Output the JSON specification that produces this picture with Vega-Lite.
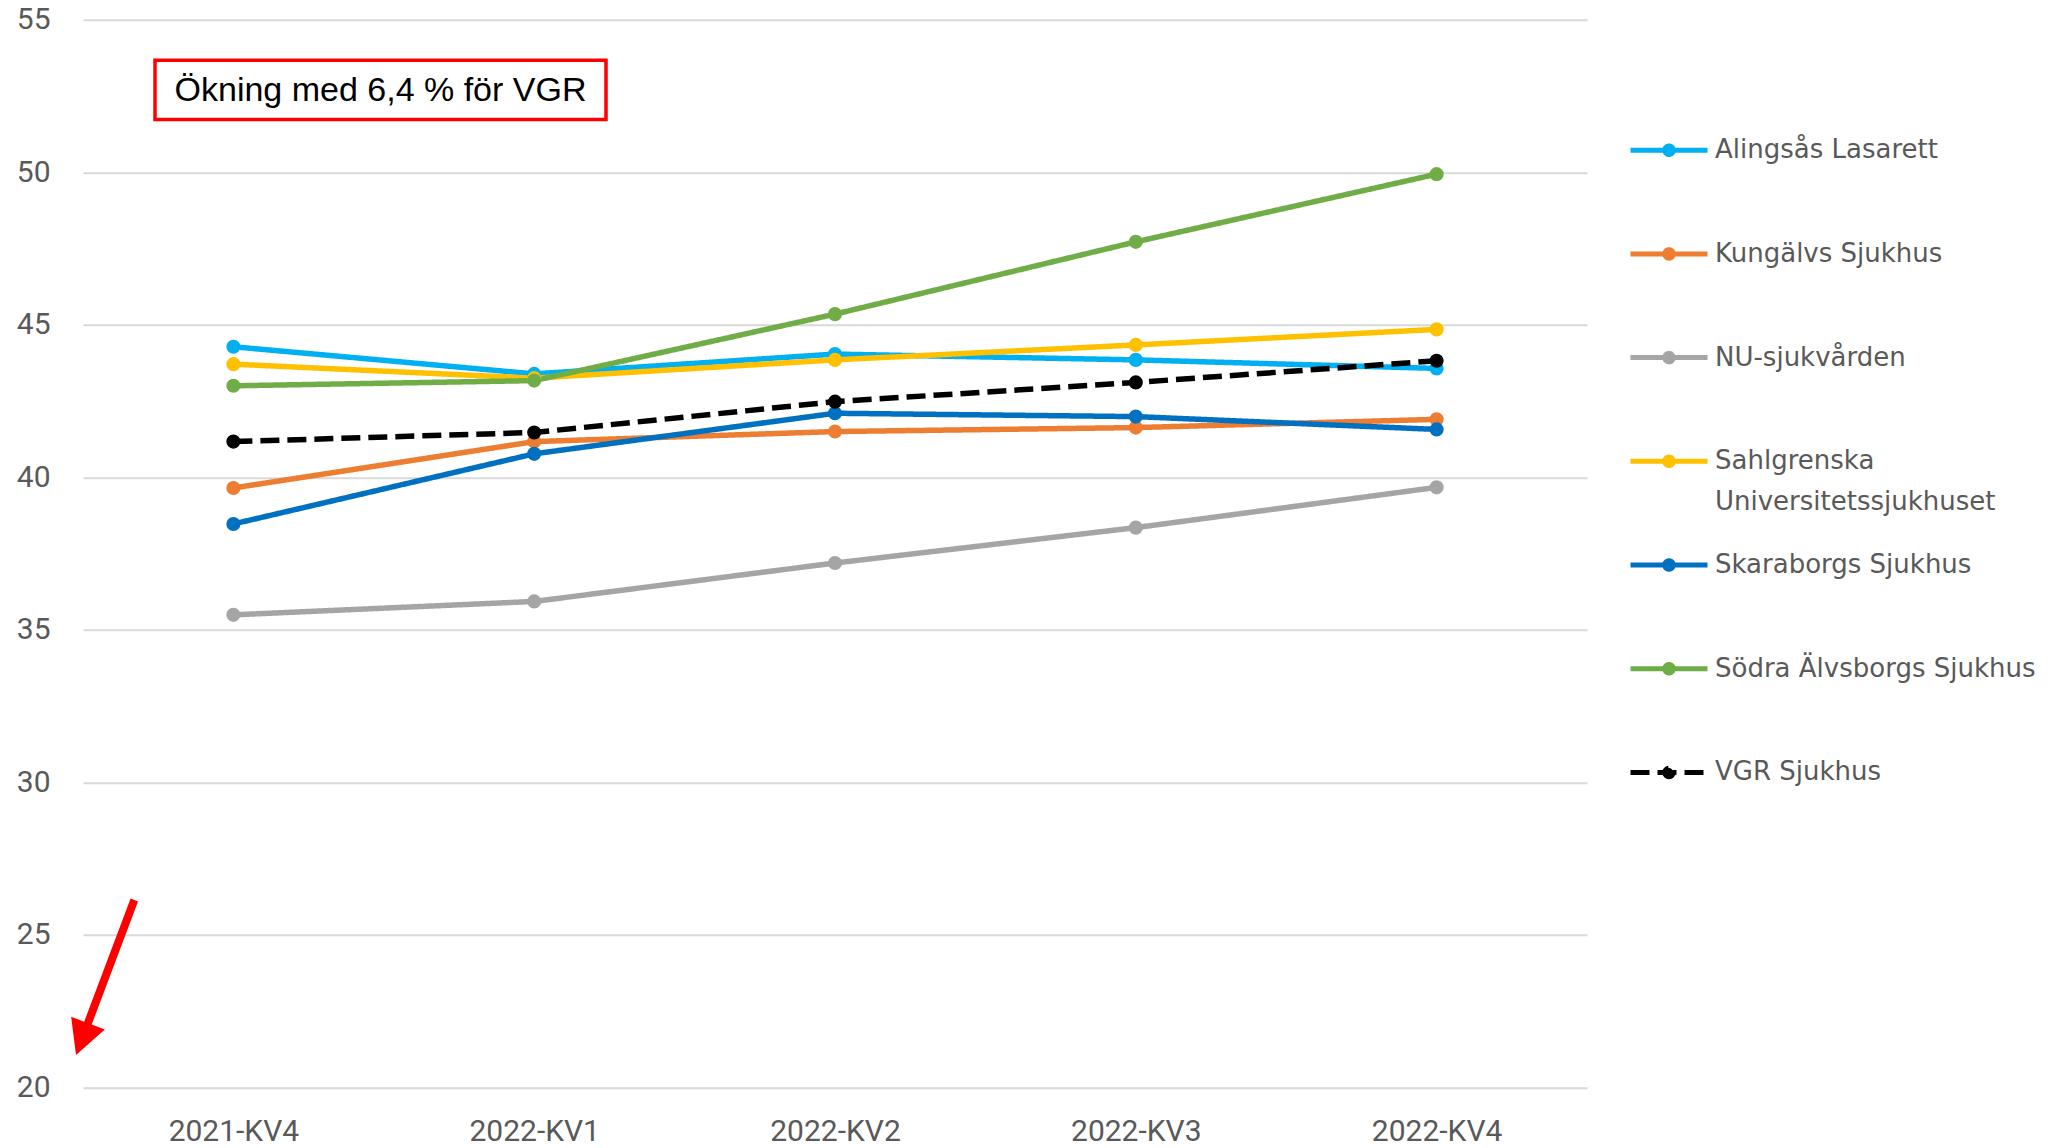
{
  "$schema": "https://vega.github.io/schema/vega-lite/v6.json",
  "width": 1504,
  "height": 1067.5,
  "autosize": {"type": "none"},
  "padding": {"left": 83, "top": 19.8, "right": 474, "bottom": 60.7},
  "background": "white",
  "config": {
    "view": {"stroke": null},
    "font": "Liberation Sans",
    "style": {"guide-label": {"lineHeight": 40.7}}
  },
  "datasets": {
    "serier": [
      {"kvartal": "2021-KV4", "sjukhus": "Alingsås Lasarett", "varde": 44.28},
      {"kvartal": "2022-KV1", "sjukhus": "Alingsås Lasarett", "varde": 43.39},
      {"kvartal": "2022-KV2", "sjukhus": "Alingsås Lasarett", "varde": 44.04},
      {"kvartal": "2022-KV3", "sjukhus": "Alingsås Lasarett", "varde": 43.85},
      {"kvartal": "2022-KV4", "sjukhus": "Alingsås Lasarett", "varde": 43.57},
      {"kvartal": "2021-KV4", "sjukhus": "Kungälvs Sjukhus", "varde": 39.65},
      {"kvartal": "2022-KV1", "sjukhus": "Kungälvs Sjukhus", "varde": 41.17},
      {"kvartal": "2022-KV2", "sjukhus": "Kungälvs Sjukhus", "varde": 41.5},
      {"kvartal": "2022-KV3", "sjukhus": "Kungälvs Sjukhus", "varde": 41.63},
      {"kvartal": "2022-KV4", "sjukhus": "Kungälvs Sjukhus", "varde": 41.9},
      {"kvartal": "2021-KV4", "sjukhus": "NU-sjukvården", "varde": 35.49},
      {"kvartal": "2022-KV1", "sjukhus": "NU-sjukvården", "varde": 35.93},
      {"kvartal": "2022-KV2", "sjukhus": "NU-sjukvården", "varde": 37.19},
      {"kvartal": "2022-KV3", "sjukhus": "NU-sjukvården", "varde": 38.35},
      {"kvartal": "2022-KV4", "sjukhus": "NU-sjukvården", "varde": 39.67},
      {"kvartal": "2021-KV4", "sjukhus": "Sahlgrenska Universitetssjukhuset", "varde": 43.71},
      {"kvartal": "2022-KV1", "sjukhus": "Sahlgrenska Universitetssjukhuset", "varde": 43.25},
      {"kvartal": "2022-KV2", "sjukhus": "Sahlgrenska Universitetssjukhuset", "varde": 43.85},
      {"kvartal": "2022-KV3", "sjukhus": "Sahlgrenska Universitetssjukhuset", "varde": 44.34},
      {"kvartal": "2022-KV4", "sjukhus": "Sahlgrenska Universitetssjukhuset", "varde": 44.85},
      {"kvartal": "2021-KV4", "sjukhus": "Skaraborgs Sjukhus", "varde": 38.47},
      {"kvartal": "2022-KV1", "sjukhus": "Skaraborgs Sjukhus", "varde": 40.77},
      {"kvartal": "2022-KV2", "sjukhus": "Skaraborgs Sjukhus", "varde": 42.1},
      {"kvartal": "2022-KV3", "sjukhus": "Skaraborgs Sjukhus", "varde": 41.99},
      {"kvartal": "2022-KV4", "sjukhus": "Skaraborgs Sjukhus", "varde": 41.57},
      {"kvartal": "2021-KV4", "sjukhus": "Södra Älvsborgs Sjukhus", "varde": 43.0},
      {"kvartal": "2022-KV1", "sjukhus": "Södra Älvsborgs Sjukhus", "varde": 43.17},
      {"kvartal": "2022-KV2", "sjukhus": "Södra Älvsborgs Sjukhus", "varde": 45.35},
      {"kvartal": "2022-KV3", "sjukhus": "Södra Älvsborgs Sjukhus", "varde": 47.72},
      {"kvartal": "2022-KV4", "sjukhus": "Södra Älvsborgs Sjukhus", "varde": 49.94},
      {"kvartal": "2021-KV4", "sjukhus": "VGR Sjukhus", "varde": 41.17},
      {"kvartal": "2022-KV1", "sjukhus": "VGR Sjukhus", "varde": 41.47},
      {"kvartal": "2022-KV2", "sjukhus": "VGR Sjukhus", "varde": 42.48},
      {"kvartal": "2022-KV3", "sjukhus": "VGR Sjukhus", "varde": 43.11},
      {"kvartal": "2022-KV4", "sjukhus": "VGR Sjukhus", "varde": 43.82}
    ],
    "ruta": [{"pos": -0.2606, "pos2": 1.2387, "varde": 53.67, "varde2": 51.73}],
    "rubrik": [{"pos": 0.489, "varde": 52.66, "etikett": "Ökning med 6,4 % för VGR"}],
    "pil": [{"pos": -0.4264, "varde": 23.6}]
  },
  "layer": [
    {
      "data": {"name": "serier"},
      "encoding": {
        "x": {
          "field": "kvartal", "type": "ordinal",
          "scale": {"type": "point", "padding": 0.5, "domain": ["2021-KV4", "2022-KV1", "2022-KV2", "2022-KV3", "2022-KV4"]},
          "axis": {"title": null, "labelAngle": 0, "domain": false, "ticks": false, "grid": false, "labelFont": "Roboto", "labelFontSize": 30, "labelColor": "#595959", "labelPadding": 29}
        },
        "y": {
          "field": "varde", "type": "quantitative",
          "scale": {"domain": [20, 55], "nice": false, "zero": false},
          "axis": {"title": null, "values": [20, 25, 30, 35, 40, 45, 50, 55], "grid": true, "gridColor": "#D9D9D9", "gridWidth": 2, "domain": false, "ticks": false, "labelFont": "Roboto", "labelFontSize": 30, "labelColor": "#595959", "labelPadding": 33}
        },
        "color": {
          "field": "sjukhus", "type": "nominal",
          "scale": {
            "domain": ["Alingsås Lasarett", "Kungälvs Sjukhus", "NU-sjukvården", "Sahlgrenska Universitetssjukhuset", "Skaraborgs Sjukhus", "Södra Älvsborgs Sjukhus", "VGR Sjukhus"],
            "range": ["#00B0F0", "#ED7D31", "#A5A5A5", "#FFC000", "#0070C0", "#70AD47", "#000000"]
          },
          "legend": {
            "title": null, "orient": "none", "legendX": 1545, "legendY": 89.4, "direction": "vertical", "columns": 1, "padding": 0,
            "symbolType": "M-1,0L1,0M0.11,0A0.11,0.11,0,1,1,-0.11,0A0.11,0.11,0,1,1,0.11,0M0.04,0A0.04,0.04,0,1,1,-0.04,0A0.04,0.04,0,1,1,0.04,0",
            "symbolSize": 5929, "symbolStrokeWidth": 5, "symbolOpacity": 1,
            "labelFont": "DejaVu Sans", "labelFontSize": 26, "labelColor": "#595959", "labelOffset": 5, "labelLimit": 500, "labelBaseline": "middle",
            "rowPadding": 8.7, "gridAlign": "all",
            "labelExpr": "datum.label == 'Sahlgrenska Universitetssjukhuset' ? ['Sahlgrenska', 'Universitetssjukhuset'] : datum.label"
          }
        },
        "strokeDash": {
          "field": "sjukhus", "type": "nominal",
          "scale": {
            "domain": ["Alingsås Lasarett", "Kungälvs Sjukhus", "NU-sjukvården", "Sahlgrenska Universitetssjukhuset", "Skaraborgs Sjukhus", "Södra Älvsborgs Sjukhus", "VGR Sjukhus"],
            "range": [[1, 0], [1, 0], [1, 0], [1, 0], [1, 0], [1, 0], [19, 8]]
          },
          "legend": {
            "title": null, "orient": "none", "legendX": 1545, "legendY": 89.4, "direction": "vertical", "columns": 1, "padding": 0,
            "symbolType": "M-1,0L1,0M0.11,0A0.11,0.11,0,1,1,-0.11,0A0.11,0.11,0,1,1,0.11,0M0.04,0A0.04,0.04,0,1,1,-0.04,0A0.04,0.04,0,1,1,0.04,0",
            "symbolSize": 5929, "symbolStrokeWidth": 5, "symbolOpacity": 1,
            "labelFont": "DejaVu Sans", "labelFontSize": 26, "labelColor": "#595959", "labelOffset": 5, "labelLimit": 500, "labelBaseline": "middle",
            "rowPadding": 8.7, "gridAlign": "all",
            "labelExpr": "datum.label == 'Sahlgrenska Universitetssjukhuset' ? ['Sahlgrenska', 'Universitetssjukhuset'] : datum.label"
          }
        }
      },
      "layer": [
        {"mark": {"type": "line", "strokeWidth": 5.5}},
        {"mark": {"type": "point", "filled": true, "size": 200, "opacity": 1}}
      ]
    },
    {
      "data": {"name": "ruta"},
      "mark": {"type": "rect", "fill": "white", "stroke": "#FF0000", "strokeWidth": 3.5},
      "encoding": {
        "x": {"field": "pos", "type": "quantitative", "scale": {"domain": [-0.5, 4.5], "nice": false, "zero": false}, "axis": null},
        "x2": {"field": "pos2"},
        "y": {"field": "varde", "type": "quantitative"},
        "y2": {"field": "varde2"}
      }
    },
    {
      "data": {"name": "rubrik"},
      "mark": {"type": "text", "font": "Liberation Sans", "fontSize": 34, "color": "black", "align": "center", "baseline": "middle"},
      "encoding": {
        "x": {"field": "pos", "type": "quantitative", "scale": {"domain": [-0.5, 4.5], "nice": false, "zero": false}, "axis": null},
        "y": {"field": "varde", "type": "quantitative"},
        "text": {"field": "etikett"}
      }
    },
    {
      "data": {"name": "pil"},
      "mark": {"type": "point", "shape": "M0.411,-0.951L-0.168,0.589L-0.004,0.650L-0.364,0.969L-0.425,0.492L-0.262,0.553L0.318,-0.986Z", "filled": true, "fill": "#FF0000", "strokeWidth": 0, "size": 25600, "opacity": 1},
      "encoding": {
        "x": {"field": "pos", "type": "quantitative", "scale": {"domain": [-0.5, 4.5], "nice": false, "zero": false}, "axis": null},
        "y": {"field": "varde", "type": "quantitative"}
      }
    }
  ],
  "resolve": {"scale": {"x": "independent"}}
}
